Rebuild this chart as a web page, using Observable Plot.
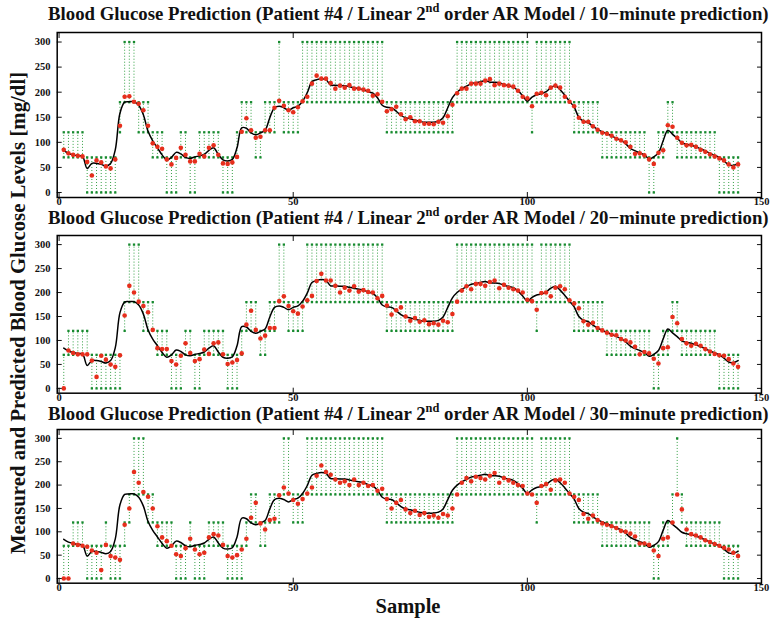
<!DOCTYPE html>
<html><head><meta charset="utf-8">
<script src="https://cdn.jsdelivr.net/npm/d3@7"></script>
<script src="https://cdn.jsdelivr.net/npm/@observablehq/plot@0.6"></script>
<style>
body{margin:0;background:#fff;}
#root{position:relative;width:772px;height:619px;overflow:hidden;font-family:"Liberation Serif","DejaVu Serif",serif;}
#root svg text{font-family:"Liberation Serif","DejaVu Serif",serif !important;font-weight:bold;font-size:10.5px;}
.title{position:absolute;font-weight:bold;font-size:18.8px;line-height:12px;white-space:nowrap;color:#111;}
.title sup{font-size:0.66em;line-height:0;vertical-align:0.62em;}
.ylab{position:absolute;font-weight:bold;font-size:20.8px;line-height:14px;white-space:nowrap;color:#111;transform-origin:center center;}
.xlab{position:absolute;font-weight:bold;font-size:20.5px;line-height:14px;white-space:nowrap;color:#111;}
</style></head>
<body><div id="root"></div>
<script>
const samples = d3.range(1, 146);
const measured = [
 84,78,75,73,72,48,58,58,56,53,
 58,85,158,180,181,181,174,155,122,103,
 89,75,65,70,80,77,70,68,71,73,
 76,84,89,76,65,63,66,89,129,128,
 119,115,119,124,149,169,172,169,164,169,
 172,182,199,221,225,227,225,214,214,213,
 213,211,209,207,205,201,198,189,174,170,
 169,162,154,149,147,144,142,140,140,140,
 142,149,169,189,200,207,212,217,219,221,
 223,220,220,219,215,213,210,203,193,182,
 190,195,197,201,209,213,205,194,182,170,
 150,142,139,132,126,121,117,113,108,104,
 97,88,83,79,75,67,71,79,103,124,
 116,108,99,96,94,91,87,83,78,74,
 70,63,55,54,58];
const pred10 = [
 85,78,75,73,72,61,34,64,60,52,
 48,66,133,191,192,181,177,164,133,98,
 91,87,66,56,69,89,75,62,62,77,
 72,89,94,75,58,57,60,71,121,148,
 124,109,111,124,124,169,183,173,164,160,
 170,182,191,217,233,227,227,218,207,213,
 209,214,207,207,205,203,193,196,181,162,
 166,171,156,146,150,142,142,137,137,136,
 141,139,152,175,198,207,207,217,217,217,
 223,226,214,217,214,213,211,203,191,188,
 172,197,199,194,209,213,209,191,181,172,
 149,141,141,132,125,119,117,113,107,104,
 100,91,77,78,74,66,57,79,84,134,
 131,109,99,94,95,91,85,81,76,72,
 68,64,56,50,56];
const pred20 = [
 0,79,74,71,71,71,58,24,68,60,
 50,45,69,152,214,200,181,172,159,122,
 84,82,82,57,50,68,94,74,57,61,
 81,72,94,96,71,51,54,59,73,133,
 162,122,104,110,126,126,182,192,172,161,
 156,171,184,193,224,239,225,225,214,200,
 210,204,213,202,205,201,200,188,193,173,
 154,163,169,150,141,147,139,142,134,136,
 133,141,138,155,181,204,213,207,218,218,
 214,222,225,209,216,210,207,204,200,185,
 182,164,199,200,192,210,213,207,184,177,
 167,140,133,137,126,121,116,112,111,103,
 100,96,87,71,76,73,62,52,84,86,
 149,136,103,94,89,93,89,82,77,72,
 69,68,61,52,45];
const pred30 = [
 0,0,75,72,70,68,60,55,18,72,
 48,45,40,115,150,228,205,185,175,150,
 112,88,80,70,52,48,65,85,62,52,
 55,88,95,92,72,48,45,50,62,85,
 130,162,118,105,125,128,178,195,182,168,
 160,170,182,195,220,242,228,222,212,205,
 208,200,212,200,205,198,200,188,192,170,
 150,162,168,148,140,145,136,140,132,135,
 130,138,135,150,180,205,215,208,218,215,
 212,220,226,205,215,210,205,200,198,182,
 180,162,198,202,190,210,212,205,182,175,
 168,138,128,135,125,118,115,112,108,102,
 100,96,90,75,75,72,60,48,85,88,
 120,180,148,105,95,92,88,82,78,74,
 70,66,62,55,48];
const bandEdges = [0, 70, 120, 180, 300];
const xTicks = [0, 50, 100, 150];
const yTicks = [0, 50, 100, 150, 200, 250, 300];
const horizons = ["10", "20", "30"];
const titleText = h => `Blood Glucose Prediction (Patient #4 / Linear 2<sup>nd</sup> order AR Model / ${h}\u2212minute prediction)`;
const yLabel = "Measured and Predicted Blood Glucose Levels [mg/dl]";
const xLabel = "Sample";

function zone(v){
  for (let k = 0; k < bandEdges.length - 2; k++) if (v < bandEdges[k+1]) return [bandEdges[k], bandEdges[k+1]];
  return [bandEdges[bandEdges.length-2], bandEdges[bandEdges.length-1]];
}

const root = document.getElementById("root");
const frames = [[31.7,196.7],[235,392.7],[429,582.7]];
const titleBaselines = [20.5, 224, 420];
const preds = [pred10, pred20, pred30];

preds.forEach((pred, pi) => {
  const [ft, fb] = frames[pi];
  const mt = 4, mb = 18;
  const h = fb - ft + mt + mb;
  const rows = samples.map((s, i) => { const [lo, hi] = zone(pred[i]); return {s, m: measured[i], p: pred[i], lo, hi}; });
  const ends = rows.flatMap(d => [{s: d.s, y: d.lo}, {s: d.s, y: d.hi}]);
  const svg = Plot.plot({
    width: 772, height: h, marginLeft: 56.7, marginRight: 11, marginTop: mt, marginBottom: mb,
    x: {domain: [-0.4, 150]}, y: {domain: [-10, 319]},
    style: {fontFamily: "Liberation Serif, serif", fontWeight: "bold", fontSize: "10.5px", color: "#111", background: "transparent", overflow: "visible"},
    marks: [
      Plot.ruleX(rows, {x: "s", y1: "lo", y2: "hi", stroke: "#34a044", strokeWidth: 1, strokeDasharray: "1,2"}),
      Plot.dot(ends, {x: "s", y: "y", symbol: "square", r: 1.3, fill: "#168a2e", stroke: "none"}),
      Plot.line(rows, {x: "s", y: "m", stroke: "black", strokeWidth: 1.5, curve: "catmull-rom"}),
      Plot.dot(rows, {x: "s", y: "p", r: 2.3, fill: "#e62e1c", stroke: "none"}),
      Plot.axisX({anchor: "bottom", ticks: xTicks, tickSize: -5, tickPadding: 5, label: null, tickFormat: d => String(d)}),
      Plot.axisX({anchor: "top", ticks: xTicks, tickSize: -5, tickFormat: () => "", label: null}),
      Plot.axisY({anchor: "left", ticks: yTicks, tickSize: -5, tickPadding: 11.7, label: null, tickFormat: d => String(d)}),
      Plot.axisY({anchor: "right", ticks: yTicks, tickSize: -5, tickFormat: () => "", label: null}),
      Plot.frame({stroke: "black", strokeWidth: 1.5})
    ]
  });
  svg.style.position = "absolute";
  svg.style.left = "0px";
  svg.style.top = (ft - mt) + "px";
  root.appendChild(svg);

  const t = document.createElement("span");
  t.className = "title";
  t.innerHTML = titleText(horizons[pi]);
  root.appendChild(t);
  const tw = t.offsetWidth;
  t.style.left = (408.5 - tw / 2) + "px";
  t.style.top = (titleBaselines[pi] - 12.3) + "px";
});

const yl = document.createElement("span");
yl.className = "ylab";
yl.textContent = yLabel;
root.appendChild(yl);
const w = yl.offsetWidth;
yl.style.left = (18 - w/2) + "px";
yl.style.top = (313 - 7) + "px";
yl.style.transform = "rotate(-90deg)";

const xl = document.createElement("span");
xl.className = "xlab";
xl.textContent = xLabel;
root.appendChild(xl);
xl.style.left = (408 - xl.offsetWidth / 2) + "px";
xl.style.top = (612 - 13.3) + "px";
</script>
</body></html>
